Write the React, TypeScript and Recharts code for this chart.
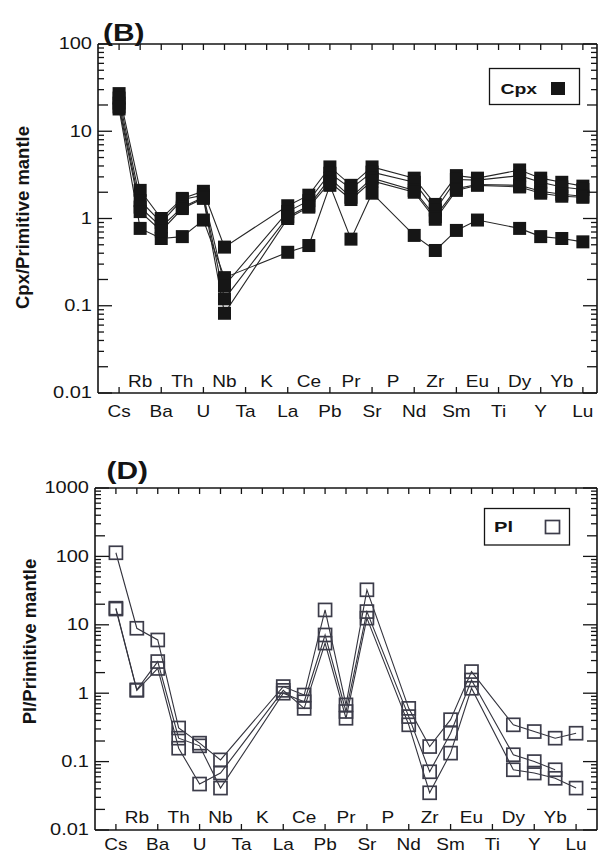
import React from 'react';
import { LineChart, Line, XAxis, YAxis } from 'recharts';

const elements = ['Cs', 'Rb', 'Ba', 'Th', 'U', 'Nb', 'Ta', 'K', 'La', 'Ce', 'Pb', 'Pr', 'Sr', 'P', 'Nd', 'Zr', 'Sm', 'Eu', 'Ti', 'Dy', 'Y', 'Yb', 'Lu'];
const elementTicks = [1, 2, 3, 4, 5, 6, 7, 8, 9, 10, 11, 12, 13, 14, 15, 16, 17, 18, 19, 20, 21, 22, 23];

// Cpx / primitive mantle (order follows `elements`)
const cpxA = [18, 0.77, 0.59, 0.62, 0.96, 0.21, null, null, 0.41, 0.49, 2.4, 0.58, 1.95, null, 0.64, 0.43, 0.73, 0.96, null, 0.77, 0.62, 0.59, 0.54];
const cpxB = [27, 2.1, 1.0, 1.7, 2.05, 0.47, null, null, 1.4, 1.85, 3.9, 2.4, 3.9, null, 2.9, 1.45, 3.1, 2.9, null, 3.6, 2.9, 2.6, 2.35];
const cpxC = [24, 1.6, 0.9, 1.65, 1.85, 0.17, null, null, 1.2, 1.6, 3.3, 2.2, 3.4, null, 2.6, 1.25, 2.8, 2.75, null, 3.1, 2.6, 2.3, 2.15];
const cpxD = [21, 1.35, 0.8, 1.35, 1.75, 0.12, null, null, 1.05, 1.4, 2.9, 1.75, 2.9, null, 2.1, 1.05, 2.2, 2.45, null, 2.4, 2.05, 1.9, 1.8];
const cpxE = [19, 1.2, 0.72, 1.3, 1.7, 0.082, null, null, 1.0, 1.35, 2.6, 1.65, 2.7, null, 2.0, 0.98, 2.1, 2.4, null, 2.3, 1.95, 1.8, 1.75];

// Pl / primitive mantle
const plA = [113, 8.9, 6.0, 0.31, 0.186, 0.106, null, null, 1.25, 0.94, 16.5, 0.675, 32.5, null, 0.6, 0.166, 0.41, 2.07, null, 0.345, 0.275, 0.22, 0.26];
const plB = [17.5, 1.12, 2.9, 0.22, 0.17, 0.041, null, null, 1.0, 0.75, 7.1, 0.54, 15.6, null, 0.455, 0.071, 0.26, 1.56, null, 0.126, 0.1, 0.076, null];
const plC = [17, 1.1, 2.3, 0.157, 0.047, 0.068, null, null, 1.1, 0.6, 5.4, 0.43, 12.5, null, 0.345, 0.035, 0.133, 1.18, null, 0.076, 0.068, 0.057, 0.041];

const cpxDecades = [0.01, 0.1, 1, 10, 100];
const plDecades = [0.01, 0.1, 1, 10, 100, 1000];
const minorMultipliers = [2, 3, 4, 5, 6, 7, 8, 9];

const FONT = '"Liberation Sans", Arial, Helvetica, sans-serif';
const INK = '#141414';

function buildTicks(decades: number[]) {
  const t: number[] = [];
  decades.forEach((d, i) => {
    t.push(d);
    if (i < decades.length - 1) minorMultipliers.forEach((m) => t.push(Number((d * m).toPrecision(3))));
  });
  return t;
}

function buildRows(series: (number | null)[][]) {
  return elements.map((el, i) => {
    const row: any = { x: elementTicks[i], el };
    series.forEach((s, j) => {
      row['s' + j] = s[i];
    });
    return row;
  });
}

const cpxRows = buildRows([cpxA, cpxB, cpxC, cpxD, cpxE]);
const plRows = buildRows([plA, plB, plC]);

const near = (a: number) => Math.abs(a - Math.round(a)) < 1e-6;
const isDecade = (v: number) => near(Math.log10(v));
const isTwo = (v: number) => near(Math.log10(v / 2));

// text stretched horizontally like the scanned figure
function SText(props: any) {
  const { x, y, sx = 1, children, ...rest } = props;
  return (
    <text transform={`translate(${x} ${y}) scale(${sx} 1)`} x={0} y={0} fontFamily={FONT} fill={INK} {...rest}>
      {children}
    </text>
  );
}

const makeYTick = (side: 'left' | 'right') => (props: any) => {
  const { x, y, payload } = props;
  const v = Number(payload.value);
  const len = isDecade(v) ? 14 : isTwo(v) ? 10 : 6;
  const dir = side === 'left' ? 1 : -1;
  return (
    <g>
      <line x1={x} x2={x + dir * len} y1={y} y2={y} stroke={INK} strokeWidth={1.3} />
      {side === 'left' && isDecade(v) ? (
        <SText x={x - 6} y={y} sx={1.25} textAnchor="end" dominantBaseline="central" fontSize={16}>
          {String(v)}
        </SText>
      ) : null}
    </g>
  );
};

const makeBottomTick = (lowerDy: number, upperDy: number) => (props: any) => {
  const { x, y, payload } = props;
  const v = Number(payload.value);
  const label = elements[v - 1];
  const lower = v % 2 === 1;
  return (
    <g>
      {lower ? <line x1={x} x2={x} y1={y} y2={y - 6} stroke={INK} strokeWidth={1.3} /> : null}
      <SText x={x} y={lower ? y + lowerDy : y - upperDy} sx={1.12} textAnchor="middle" fontSize={17}>
        {label}
      </SText>
    </g>
  );
};

const TopTick = (props: any) => {
  const { x, y } = props;
  return <line x1={x} x2={x} y1={y} y2={y + 6} stroke={INK} strokeWidth={1.3} />;
};

const FilledSquare = (props: any) => {
  const { cx, cy, index, dataKey } = props;
  if (cx == null || cy == null || isNaN(cy)) return <g key={`${dataKey}-${index}`} />;
  return <rect key={`${dataKey}-${index}`} x={cx - 6.5} y={cy - 6.5} width={13} height={13} fill="#161616" />;
};

const HollowSquare = (props: any) => {
  const { cx, cy, index, dataKey } = props;
  if (cx == null || cy == null || isNaN(cy)) return <g key={`${dataKey}-${index}`} />;
  return <rect key={`${dataKey}-${index}`} x={cx - 6.5} y={cy - 6.5} width={13} height={13} fill="none" stroke="#3c3c4a" strokeWidth={1.7} />;
};

const axisLine = { stroke: INK, strokeWidth: 1.6 };

function Panel(props: {
  rows: any[];
  keys: string[];
  decades: number[];
  xMax: number;
  marginTop: number;
  leftWidth: number;
  bottomHeight: number;
  lowerDy: number;
  upperDy: number;
  filled: boolean;
}) {
  const ticks = buildTicks(props.decades);
  const domain = [props.decades[0], props.decades[props.decades.length - 1]];
  return (
    <LineChart width={602} height={427} data={props.rows} margin={{ top: props.marginTop, right: 0, bottom: 0, left: 0 }}>
      <XAxis
        xAxisId="b"
        dataKey="x"
        type="number"
        domain={[0, props.xMax]}
        ticks={elementTicks}
        interval={0}
        height={props.bottomHeight}
        tickSize={0}
        tickMargin={0}
        tickLine={false}
        axisLine={axisLine}
        tick={makeBottomTick(props.lowerDy, props.upperDy)}
      />
      <XAxis
        xAxisId="t"
        orientation="top"
        dataKey="x"
        type="number"
        domain={[0, props.xMax]}
        ticks={elementTicks}
        interval={0}
        height={1}
        tickSize={0}
        tickMargin={0}
        tickLine={false}
        axisLine={axisLine}
        tick={TopTick}
      />
      <YAxis
        yAxisId="l"
        type="number"
        scale="log"
        domain={domain}
        allowDataOverflow
        ticks={ticks}
        interval={0}
        width={props.leftWidth}
        tickSize={0}
        tickMargin={0}
        tickLine={false}
        axisLine={axisLine}
        tick={makeYTick('left')}
      />
      <YAxis
        yAxisId="r"
        orientation="right"
        type="number"
        scale="log"
        domain={domain}
        allowDataOverflow
        ticks={ticks}
        interval={0}
        width={5}
        tickSize={0}
        tickMargin={0}
        tickLine={false}
        axisLine={axisLine}
        tick={makeYTick('right')}
      />
      {props.keys.map((k) => (
        <Line
          key={k}
          xAxisId="b"
          yAxisId="l"
          dataKey={k}
          type="linear"
          stroke={props.filled ? '#262626' : '#33333d'}
          strokeWidth={1.1}
          connectNulls
          isAnimationActive={false}
          dot={props.filled ? FilledSquare : HollowSquare}
          activeDot={false}
        />
      ))}
    </LineChart>
  );
}

export default function App() {
  return (
    <div style={{ position: 'absolute', left: 0, top: 0, width: 602, height: 854, background: '#fff' }}>
      <div style={{ position: 'absolute', left: 0, top: 0 }}>
        <Panel rows={cpxRows} keys={['s0', 's1', 's2', 's3', 's4']} decades={cpxDecades} xMax={23.67} marginTop={43} leftWidth={98} bottomHeight={34} lowerDy={24} upperDy={6} filled />
      </div>
      <div style={{ position: 'absolute', left: 0, top: 427 }}>
        <Panel rows={plRows} keys={['s0', 's1', 's2']} decades={plDecades} xMax={24} marginTop={60} leftWidth={95} bottomHeight={24} lowerDy={20} upperDy={7} filled={false} />
      </div>
      <svg width={602} height={854} style={{ position: 'absolute', left: 0, top: 0, pointerEvents: 'none' }}>
        <SText x={103} y={41} sx={1.3} fontSize={23} fontWeight="bold">(B)</SText>
        <text x={22.5} y={217.5} fontFamily={FONT} fill={INK} fontSize={18.5} fontWeight="bold" textAnchor="middle" dominantBaseline="central" transform="rotate(-90 22.5 217.5)">
          Cpx/Primitive mantle
        </text>
        <rect x={489.5} y={68.5} width={90} height={36} fill="#fff" stroke={INK} strokeWidth={1.3} />
        <SText x={500.5} y={93.5} sx={1.25} fontSize={15.5} fontWeight="bold">Cpx</SText>
        <rect x={551} y={82} width={14} height={13} fill="#161616" />

        <SText x={106.5} y={479} sx={1.3} fontSize={23} fontWeight="bold">(D)</SText>
        <text x={29} y={641.5} fontFamily={FONT} fill={INK} fontSize={18.5} fontWeight="bold" textAnchor="middle" dominantBaseline="central" transform="rotate(-90 29 641.5)">
          Pl/Primitive mantle
        </text>
        <rect x={484.5} y={508.5} width={85} height={36.5} fill="#fff" stroke={INK} strokeWidth={1.3} />
        <SText x={494} y={531.5} sx={1.3} fontSize={15.5} fontWeight="bold">Pl</SText>
        <rect x={545.5} y={520.5} width={14} height={13} fill="none" stroke="#3c3c4a" strokeWidth={1.7} />
      </svg>
    </div>
  );
}
